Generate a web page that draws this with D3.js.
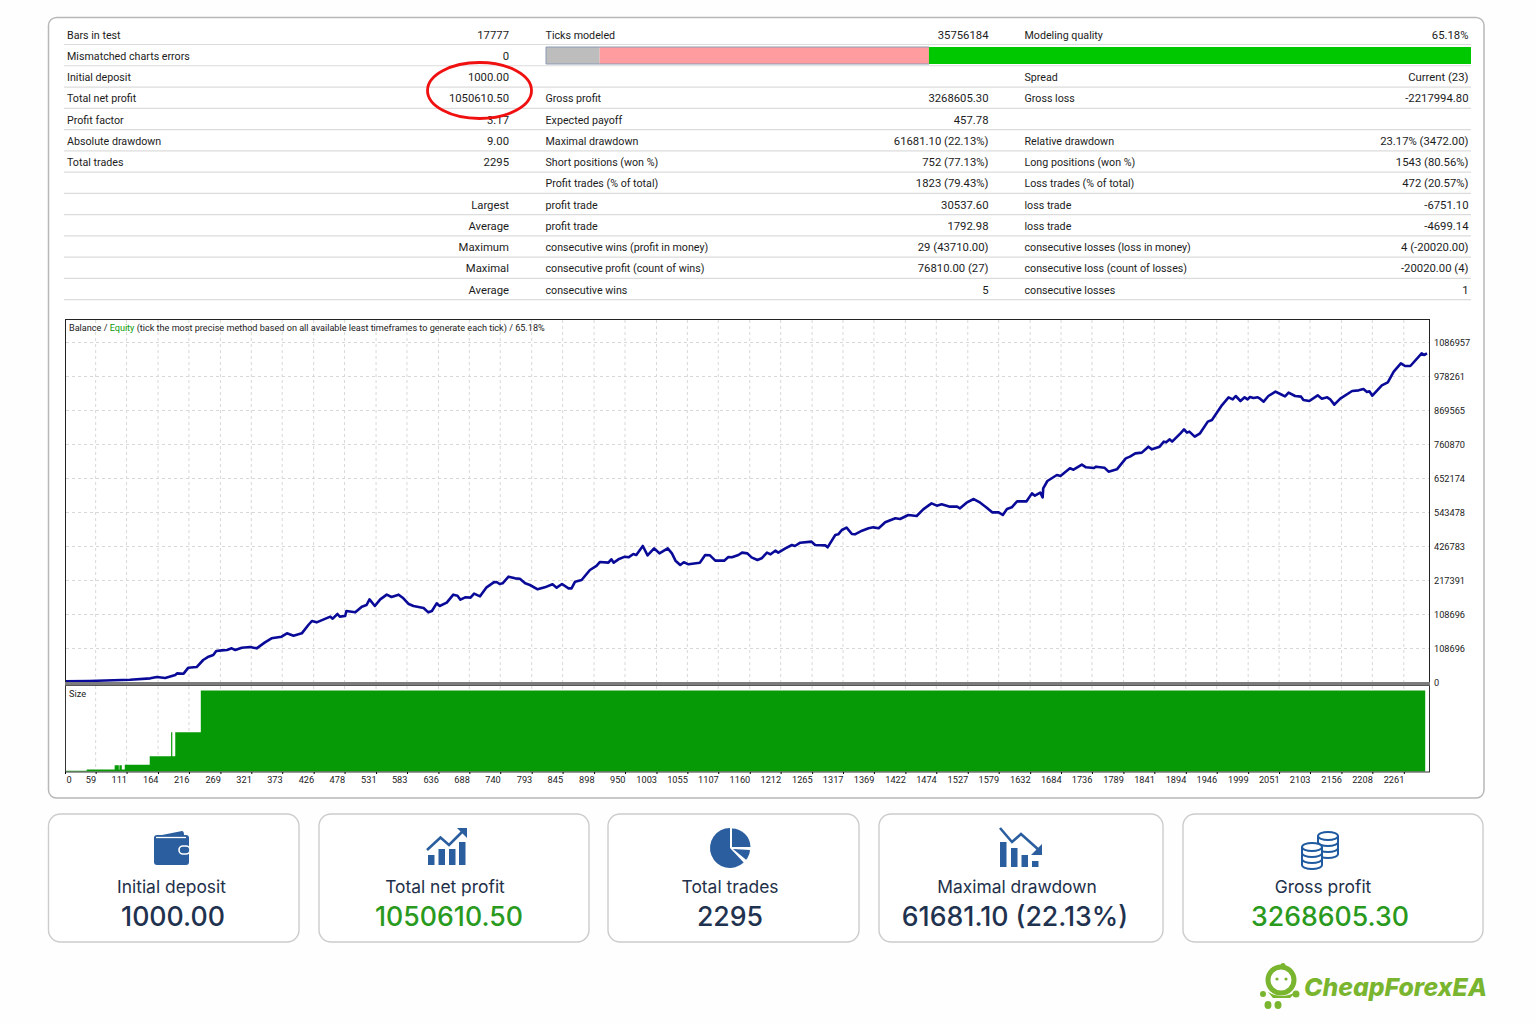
<!DOCTYPE html>
<html>
<head>
<meta charset="utf-8">
<script src="https://cdn.jsdelivr.net/npm/d3@7"></script>
<style>
  body { margin: 0; background: #fefefe; }
  svg { display: block; }
  .stat { font-family: Roboto, sans-serif; font-size: 11.3px; fill: #1c1c1c; }
  .stat.label { font-size: 10.7px; }
  .mt { font-family: Roboto, sans-serif; font-size: 9.2px; fill: #1a1a1a; }
  .card-title { font-family: Inter, sans-serif; font-size: 17.4px; fill: #22304a; }
  .card-value { font-family: Inter, sans-serif; font-size: 26.7px; font-weight: 500; }
</style>
</head>
<body>
<div id="chart"></div>
<script>
// Report table, column by column ("" = empty cell)
const col1Labels = ["Bars in test", "Mismatched charts errors", "Initial deposit", "Total net profit", "Profit factor", "Absolute drawdown", "Total trades", "", "", "", "", "", ""];
const col1Values = ["17777", "0", "1000.00", "1050610.50", "3.17", "9.00", "2295", "", "Largest", "Average", "Maximum", "Maximal", "Average"];
const col2Labels = ["Ticks modeled", "", "", "Gross profit", "Expected payoff", "Maximal drawdown", "Short positions (won %)", "Profit trades (% of total)", "profit trade", "profit trade", "consecutive wins (profit in money)", "consecutive profit (count of wins)", "consecutive wins"];
const col2Values = ["35756184", "", "", "3268605.30", "457.78", "61681.10 (22.13%)", "752 (77.13%)", "1823 (79.43%)", "30537.60", "1792.98", "29 (43710.00)", "76810.00 (27)", "5"];
const col3Labels = ["Modeling quality", "", "Spread", "Gross loss", "", "Relative drawdown", "Long positions (won %)", "Loss trades (% of total)", "loss trade", "loss trade", "consecutive losses (loss in money)", "consecutive loss (count of losses)", "consecutive losses"];
const col3Values = ["65.18%", "", "Current (23)", "-2217994.80", "", "23.17% (3472.00)", "1543 (80.56%)", "472 (20.57%)", "-6751.10", "-4699.14", "4 (-20020.00)", "-20020.00 (4)", "1"];

// Equity curve: trade number and balance in thousands
const trades = [8,48,117,151,162,176,193,196,207,215,229,240,249,257,262,271,280,288,294,305,319,330,344,355,372,381,392,406,417,423,431,454,458,466,470,479,481,496,507,515,520,529,538,549,557,569,577,586,594,611,619,625,633,638,650,661,668,673,681,690,696,706,717,729,734,739,744,754,765,773,782,790,803,815,828,835,844,855,860,866,877,891,902,908,922,927,931,939,950,956,964,969,980,988,999,1008,1022,1029,1035,1043,1049,1057,1076,1085,1093,1102,1117,1124,1130,1141,1147,1156,1163,1173,1180,1189,1195,1203,1208,1220,1231,1236,1245,1264,1270,1287,1291,1304,1309,1315,1323,1332,1337,1349,1360,1368,1377,1388,1405,1413,1427,1441,1452,1466,1475,1483,1497,1509,1514,1525,1537,1548,1559,1568,1579,1586,1593,1601,1610,1626,1635,1640,1649,1653,1654,1661,1677,1683,1699,1705,1719,1726,1739,1743,1757,1764,1778,1793,1800,1809,1820,1831,1837,1850,1857,1861,1867,1871,1885,1891,1896,1900,1909,1918,1931,1938,1955,1966,1973,1978,1986,1993,1998,2002,2008,2015,2019,2025,2033,2045,2053,2061,2067,2078,2088,2092,2102,2116,2123,2132,2137,2144,2154,2174,2185,2193,2199,2203,2208,2224,2234,2244,2256,2263,2272,2291,2295,2300];
const equity = [3.7,4.8,9,13.3,17.6,14.4,24,29.3,28.2,47.4,49.5,71.9,82.6,87.9,100.7,102.8,103.9,109.2,103.9,111.3,113.5,109.2,128.4,141.2,146.5,157.2,149.7,157.2,183.8,196.6,192.3,210.5,204.1,219,210.5,212.6,228.6,224.3,242.4,247.8,265.9,244.6,265.9,280.8,273.3,280.8,269.1,250.9,244.6,238.2,224.3,228.6,253.1,244.6,255.2,280.8,277.6,264.8,272.3,271.2,284,275.5,304.2,320.2,321.3,314.9,317,338.3,333,331.9,317,311.7,297.9,304.2,313.9,303.2,314.9,301,301,322.4,327.7,359.7,372.5,385.3,383.1,393.8,383.1,393.8,402.3,400.2,410.8,407.6,436.4,406.6,428.9,413,428.9,413,389.5,375.7,384.2,377.8,383.1,407.6,406.6,389.5,389.5,401.2,400.2,407.6,415.1,412.9,400.2,391.7,397,415.1,409.8,421.5,415.1,428.9,439.6,436.4,447,450.3,439.6,438.5,432.1,471.6,473.7,487.6,495,474.8,473.7,485.4,492.9,496,492.9,512.1,524.9,522.7,535.5,532.3,553.6,572.8,565.4,569.6,562.2,562.2,556.8,574.9,586.6,574.9,558.9,544,544,535.5,554.6,560,579.2,579.2,604.7,597.3,606.9,591.9,620.7,644.2,663.3,660.2,684.7,680.4,696.4,687.9,685.7,690,686.8,674,681.5,716.6,722,732.6,734.8,753.9,745.4,753.9,769.9,767.8,777.4,769.9,796.6,809.3,798.7,801.9,785.9,796.6,833.9,839.2,887,911.7,905.3,915.9,899.9,911.7,905.3,912.7,909.5,911.7,907.4,897.8,915.9,929.8,922.3,914.8,926.6,915.9,913.8,903.1,899.9,918,907.4,911.7,905.3,888.2,907.4,931.9,934,938.3,928.7,930.8,917,950,959.6,993.7,1020.4,1011.8,1011.8,1052.3,1047,1052.3];

// Size panel: trade where each step starts, and step height (percent of the full panel)
const sizeTrades = [8,44,91,98,99,103,108,150,186,188,193,236,2297];
const sizeLots = [0.8,2.5,7.8,2.5,7.8,2.5,8.2,18.9,48.6,18.9,48.6,100,100];

// Axis labels as printed on the report (the left ones are not evenly stepped)
const xTickLabels = [0,59,111,164,216,269,321,373,426,478,531,583,636,688,740,793,845,898,950,1003,1055,1107,1160,1212,1265,1317,1369,1422,1474,1527,1579,1632,1684,1736,1789,1841,1894,1946,1999,2051,2103,2156,2208,2261];
const yTickValues = [0,108.696,217.391,326.087,434.783,543.478,652.174,760.87,869.565,978.261,1086.957];
const yTickLabels = ["0","108696","108696","217391","426783","543478","652174","760870","869565","978261","1086957"];

// Modeling quality bar: share of each colour in percent
const qualityShares = [5.8, 35.6, 58.6];
const qualityColors = ["#bdbdbd", "#ff9c9f", "#00c800"];

// Cards under the report
const cardTitles = ["Initial deposit", "Total net profit", "Total trades", "Maximal drawdown", "Gross profit"];
const cardValues = ["1000.00", "1050610.50", "2295", "61681.10 (22.13%)", "3268605.30"];
const cardColors = ["#1f3350", "#2a9a1e", "#1f3350", "#1f3350", "#2a9a1e"];

const width = 1536, height = 1024;
const svg = d3.select("#chart").append("svg").attr("width", width).attr("height", height);

// Outer panel
svg.append("rect")
    .attr("x", 48.5).attr("y", 17.5).attr("width", 1435.5).attr("height", 780.5).attr("rx", 8)
    .attr("fill", "#fff").attr("stroke", "#b8b8b8").attr("stroke-width", 1.5);

// ---- Report table ----
const rowLine = d3.scaleLinear().domain([0, 12]).range([44.5, 299.7]);
svg.append("g").selectAll("line").data(d3.range(13)).enter().append("line")
    .attr("x1", 64).attr("x2", 1471)
    .attr("y1", d => rowLine(d)).attr("y2", d => rowLine(d))
    .attr("stroke", "#dcdcdc").attr("stroke-width", 1.2);

function addColumn(texts, x, anchor, cls) {
    svg.append("g").selectAll("text").data(texts).enter().append("text")
        .attr("class", cls)
        .attr("x", x)
        .attr("y", (d, i) => rowLine(i) - 6)
        .attr("text-anchor", anchor)
        .text(d => d);
}
addColumn(col1Labels, 67, "start", "stat label");
addColumn(col1Values, 509, "end", "stat");
addColumn(col2Labels, 545.5, "start", "stat label");
addColumn(col2Values, 988.5, "end", "stat");
addColumn(col3Labels, 1024.5, "start", "stat label");
addColumn(col3Values, 1468.5, "end", "stat");

// Quality bar
const qualityX = d3.scaleLinear().domain([0, 100]).range([546, 1471]);
let cum = 0;
qualityShares.forEach((s, i) => {
    svg.append("rect")
        .attr("x", qualityX(cum)).attr("y", 47)
        .attr("width", qualityX(cum + s) - qualityX(cum)).attr("height", 17)
        .attr("fill", qualityColors[i]);
    cum += s;
});
svg.append("path").attr("d", "M929,47H546V64H929")
    .attr("fill", "none").attr("stroke", "#8b9bb4").attr("stroke-width", 1);

// Red circle around the two values
svg.append("ellipse")
    .attr("cx", 479.5).attr("cy", 90.5).attr("rx", 52).attr("ry", 28)
    .attr("fill", "none").attr("stroke", "#f01010").attr("stroke-width", 2.8);

// ---- Balance chart ----
const x = d3.scaleLinear().domain([7.4, 2300]).range([65, 1427]).clamp(true);
const y = d3.scaleLinear().domain([0, 1086.957]).range([682.5, 342.5]);
const ySize = d3.scaleLinear().domain([0, 100]).range([771.5, 690.5]);

const gridColor = "#d8d8d8";
// vertical grid in both panes
[[320, 682], [686, 771]].forEach(([top, bottom]) => {
    svg.append("g").selectAll("line").data(xTickLabels.slice(1)).enter().append("line")
        .attr("x1", d => x(d)).attr("x2", d => x(d))
        .attr("y1", top).attr("y2", bottom)
        .attr("stroke", gridColor).attr("stroke-dasharray", "3,3");
});
// horizontal grid
svg.append("g").selectAll("line").data(yTickValues.slice(1)).enter().append("line")
    .attr("x1", 66).attr("x2", 1429)
    .attr("y1", d => y(d)).attr("y2", d => y(d))
    .attr("stroke", gridColor).attr("stroke-dasharray", "3,3");

// Size steps
const sizeArea = d3.area()
    .x((d, i) => x(sizeTrades[i]))
    .y0(ySize(0))
    .y1(d => ySize(d))
    .curve(d3.curveStepAfter);
svg.append("path").datum(sizeLots).attr("d", sizeArea).attr("fill", "#079a07");

// Equity line
const line = d3.line().x((d, i) => x(trades[i])).y(d => y(d));
svg.append("path").datum(equity).attr("d", line)
    .attr("fill", "none").attr("stroke", "#0a0a98").attr("stroke-width", 2.6).attr("stroke-linejoin", "round");

// Frames
svg.append("rect").attr("x", 65.5).attr("y", 319.5).attr("width", 1364).attr("height", 363)
    .attr("fill", "none").attr("stroke", "#222");
svg.append("rect").attr("x", 65.5).attr("y", 685.5).attr("width", 1364).attr("height", 86.5)
    .attr("fill", "none").attr("stroke", "#333");
svg.append("rect").attr("x", 65).attr("y", 682).attr("width", 1365).attr("height", 3.5).attr("fill", "#7c7c7c");

// Axes
const yAxis = svg.append("g").attr("transform", "translate(1429.5,0)")
    .call(d3.axisRight(y).tickValues(yTickValues).tickSize(0).tickFormat((d, i) => yTickLabels[i]));
yAxis.select(".domain").remove();
yAxis.selectAll("text").attr("class", "mt").attr("x", 4.5).attr("font-family", null).attr("font-size", null);

const xAxis = svg.append("g").attr("transform", "translate(0,772)")
    .call(d3.axisBottom(x).tickValues(xTickLabels).tickSize(2).tickFormat(d => d));
xAxis.select(".domain").remove();
xAxis.selectAll("text").attr("class", "mt")
    .attr("text-anchor", (d, i) => i === 0 ? "start" : "end")
    .attr("x", (d, i) => i === 0 ? 1 : 0)
    .attr("y", 4.5)
    .attr("font-family", null).attr("font-size", null);

// Chart captions
const caption = svg.append("text").attr("class", "mt").attr("x", 69).attr("y", 331).style("font-size", "9.1px");
caption.append("tspan").text("Balance / ");
caption.append("tspan").attr("style", "fill:#0a9a0a").text("Equity");
caption.append("tspan").text(" (tick the most precise method based on all available least timeframes to generate each tick) / 65.18%");
svg.append("text").attr("class", "mt").attr("x", 69).attr("y", 697).text("Size");

// ---- Cards ----
const cardX = [[48.5, 299], [319, 589], [608, 859], [879, 1163], [1183, 1483]];
const titleCx = [171.5, 445, 730, 1017, 1323];
const valueCx = [173, 449, 730, 1015, 1330];
cardTitles.forEach((t, i) => {
    svg.append("rect")
        .attr("x", cardX[i][0]).attr("y", 814)
        .attr("width", cardX[i][1] - cardX[i][0]).attr("height", 128).attr("rx", 12)
        .attr("fill", "#fff").attr("stroke", "#cccccc").attr("stroke-width", 1.4);
    svg.append("text").attr("class", "card-title")
        .attr("x", titleCx[i]).attr("y", 893).attr("text-anchor", "middle").text(t);
    svg.append("text").attr("class", "card-value")
        .attr("x", valueCx[i]).attr("y", 926).attr("text-anchor", "middle")
        .attr("fill", cardColors[i]).text(cardValues[i]);
});

// Icons
const blue = "#2b5e9e";
// wallet
const wallet = svg.append("g");
wallet.append("path").attr("d", "M157,836 L182,831 Q184,831 184,835 L157,836Z").attr("fill", blue);
wallet.append("rect").attr("x", 154).attr("y", 835).attr("width", 35).attr("height", 30).attr("rx", 3).attr("fill", blue);
wallet.append("path").attr("d", "M156,837.5H186").attr("stroke", "#fff").attr("stroke-width", 1.3);
wallet.append("rect").attr("x", 179).attr("y", 846).attr("width", 11).attr("height", 8).attr("rx", 4).attr("fill", blue).attr("stroke", "#fff").attr("stroke-width", 1.6);

// rising bars
const rising = svg.append("g");
[[428, 855], [438.5, 849], [449, 849], [459, 842]].forEach(([bx, by]) => {
    rising.append("rect").attr("x", bx).attr("y", by).attr("width", 6.5).attr("height", 865 - by).attr("fill", blue);
});
rising.append("path").attr("d", "M427,850L440.5,837.5L449,845L463,831").attr("fill", "none").attr("stroke", blue).attr("stroke-width", 2.6);
rising.append("path").attr("d", "M457,828H467V838Z").attr("fill", blue);

// pie
const pie = svg.append("g").attr("transform", "translate(730,848)");
const arc = d3.arc();
pie.append("path").attr("fill", blue).attr("d", arc({ innerRadius: 0, outerRadius: 20, startAngle: Math.PI * 0.76, endAngle: Math.PI * 2 }));
pie.append("path").attr("fill", blue).attr("transform", "translate(2,-1)").attr("d", arc({ innerRadius: 0, outerRadius: 18.5, startAngle: 0, endAngle: Math.PI / 2 }));
pie.append("path").attr("fill", blue).attr("transform", "translate(3,1)").attr("d", arc({ innerRadius: 0, outerRadius: 17, startAngle: Math.PI * 0.52, endAngle: Math.PI * 0.72 }));

// falling bars
const falling = svg.append("g");
[[1000, 842], [1011, 848], [1021.5, 855], [1032, 861]].forEach(([bx, by]) => {
    falling.append("rect").attr("x", bx).attr("y", by).attr("width", 6.5).attr("height", 867 - by).attr("fill", blue);
});
falling.append("path").attr("d", "M1000,828L1012,842L1021,834L1040,851").attr("fill", "none").attr("stroke", blue).attr("stroke-width", 2.6);
falling.append("path").attr("d", "M1042,844V855H1031Z").attr("fill", blue);

// coins
function coinStack(cx, top, levels) {
    const g = svg.append("g").attr("fill", "#fff").attr("stroke", "#1f5aa0").attr("stroke-width", 2);
    const rx = 10, ry = 4, step = 6;
    for (let k = levels - 1; k >= 0; k--) {
        const yy = top + k * step;
        g.append("path").attr("d", `M${cx - rx},${yy}V${yy + step}A${rx},${ry} 0 0 0 ${cx + rx},${yy + step}V${yy}`);
    }
    g.append("ellipse").attr("cx", cx).attr("cy", top).attr("rx", rx).attr("ry", ry);
}
coinStack(1328, 836, 3);
coinStack(1312, 847, 3);

// ---- Logo ----
const logoGreen = "#7ab52f";
const logo = svg.append("g");
logo.append("circle").attr("cx", 1281).attr("cy", 980).attr("r", 13).attr("fill", "#fff").attr("stroke", logoGreen).attr("stroke-width", 5);
logo.append("circle").attr("cx", 1283).attr("cy", 965.5).attr("r", 2.5).attr("fill", logoGreen);
logo.append("circle").attr("cx", 1277).attr("cy", 979).attr("r", 1.6).attr("fill", logoGreen);
logo.append("circle").attr("cx", 1286).attr("cy", 979).attr("r", 1.6).attr("fill", logoGreen);
logo.append("path").attr("d", "M1268,992Q1281,1000 1296,992L1290,998H1273Z").attr("fill", logoGreen);
logo.append("circle").attr("cx", 1263).attr("cy", 994).attr("r", 3).attr("fill", logoGreen);
logo.append("circle").attr("cx", 1296).attr("cy", 994).attr("r", 3.5).attr("fill", logoGreen);
logo.append("ellipse").attr("cx", 1268).attr("cy", 1005).attr("rx", 3.5).attr("ry", 4).attr("fill", logoGreen);
logo.append("ellipse").attr("cx", 1278).attr("cy", 1005).attr("rx", 3.5).attr("ry", 4).attr("fill", logoGreen);
logo.append("text").attr("x", 1304).attr("y", 996)
    .attr("font-family", "Inter, sans-serif").attr("font-size", 24.8).attr("font-weight", 800).attr("font-style", "italic")
    .attr("fill", logoGreen).text("CheapForexEA");
</script>
</body>
</html>
